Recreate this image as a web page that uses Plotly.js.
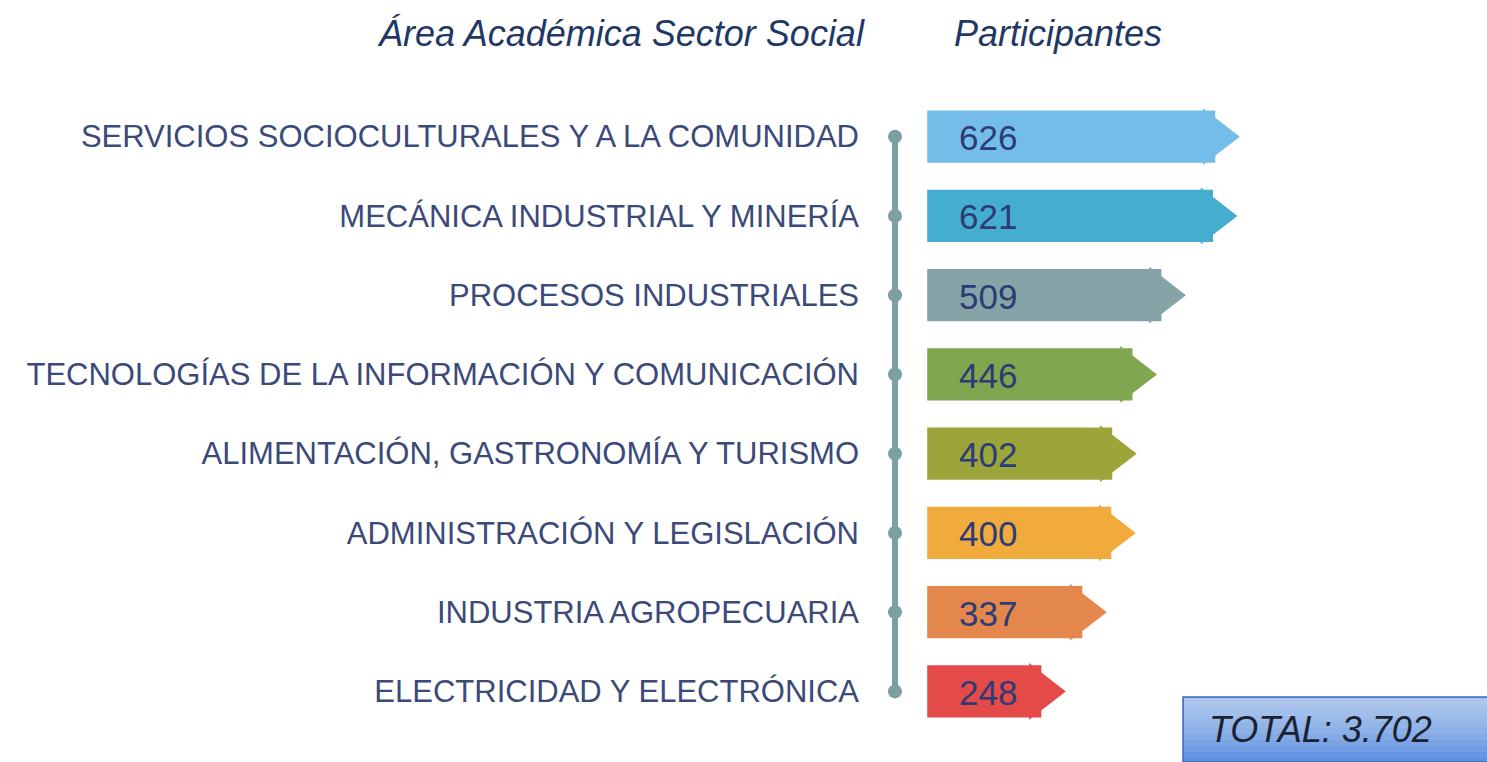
<!DOCTYPE html>
<html>
<head>
<meta charset="utf-8">
<script src="https://cdn.plot.ly/plotly-3.0.1.min.js"></script>
<style>
  html, body { margin: 0; padding: 0; background: #ffffff; }
  #chart { width: 1487px; height: 762px; }
</style>
</head>
<body>
<div id="chart"></div>
<script>
  'use strict';

  // Datos
  const AREAS = [
    'SERVICIOS SOCIOCULTURALES Y A LA COMUNIDAD',
    'MECÁNICA INDUSTRIAL Y MINERÍA',
    'PROCESOS INDUSTRIALES',
    'TECNOLOGÍAS DE LA INFORMACIÓN Y COMUNICACIÓN',
    'ALIMENTACIÓN, GASTRONOMÍA Y TURISMO',
    'ADMINISTRACIÓN Y LEGISLACIÓN',
    'INDUSTRIA AGROPECUARIA',
    'ELECTRICIDAD Y ELECTRÓNICA',
  ];
  const PARTICIPANTES = [626, 621, 509, 446, 402, 400, 337, 248];
  const TOTAL_LABEL = 'TOTAL: 3.702';
  const TITLE_AREA = 'Área Académica Sector Social';
  const TITLE_PART = 'Participantes';

  const BAR_COLORS = ['#74bde9', '#45adcf', '#86a4a8', '#80a64f', '#9ca53a', '#f1ab3c', '#e3874c', '#e34a48'];

  const W = 1487, H = 762;
  const M = { l: 866, r: 170, t: 97, b: 31 };
  const X_MIN = -133, X_MAX = 847;
  const LINE_X = -70;

  const FONT = '"Liberation Sans", Arial, sans-serif';
  const NAVY = '#1f3864';
  const LINE_COL = '#7c9fa2';

  // pixel -> paper coordinates, for the decorations outside the plot area
  const plotW = W - M.l - M.r, plotH = H - M.t - M.b;
  const px = (x) => (x - M.l) / plotW;
  const py = (y) => (H - M.b - y) / plotH;

  const bars = {
    type: 'bar',
    orientation: 'h',
    x: PARTICIPANTES,
    y: AREAS,
    width: 0.66,
    marker: { color: BAR_COLORS, line: { width: 0 } },
    hoverinfo: 'x+y',
  };

  // punta de flecha al final de cada barra
  const tips = {
    type: 'scatter',
    mode: 'markers',
    x: PARTICIPANTES,
    y: AREAS,
    marker: { symbol: 'triangle-right', size: 49, color: BAR_COLORS, line: { width: 0 } },
    hoverinfo: 'skip',
  };

  const spine = {
    type: 'scatter',
    mode: 'lines+markers',
    x: AREAS.map(() => LINE_X),
    y: AREAS,
    line: { color: LINE_COL, width: 6 },
    marker: { size: 14, color: LINE_COL },
    hoverinfo: 'skip',
  };

  const valueLabels = PARTICIPANTES.map((v, i) => ({
    x: 0, y: AREAS[i], xref: 'x', yref: 'y',
    text: String(v), showarrow: false,
    xanchor: 'left', yanchor: 'middle', xshift: 30, yshift: -1,
    font: { family: FONT, size: 35, color: '#2d3b76' },
  }));

  const centered = { xref: 'paper', yref: 'paper', xanchor: 'center', yanchor: 'middle', showarrow: false };

  const annotations = valueLabels.concat([
    { ...centered, x: px(621), y: py(34), text: TITLE_AREA,
      font: { family: FONT, size: 36, color: NAVY, style: 'italic' } },
    { ...centered, x: px(1058), y: py(34), text: TITLE_PART,
      font: { family: FONT, size: 36, color: NAVY, style: 'italic' } },
    { ...centered, x: px(1320), y: py(729), text: TOTAL_LABEL,
      font: { family: FONT, size: 36, color: '#1b2233', style: 'italic' } },
  ]);

  // caja del total con degradado (bandas superpuestas)
  const shapes = [{
    type: 'rect', xref: 'paper', yref: 'paper',
    x0: px(1183), x1: px(1490), y0: py(762), y1: py(697),
    fillcolor: '#5c90e0', line: { color: '#3c6cc0', width: 1.5 }, layer: 'below',
  }];
  for (let k = 1; k <= 10; k++) {
    shapes.push({
      type: 'rect', xref: 'paper', yref: 'paper',
      x0: px(1184), x1: px(1489), y0: py(698 + k * 6), y1: py(698),
      fillcolor: 'rgba(255,255,255,0.07)', line: { width: 0 }, layer: 'below',
    });
  }

  const layout = {
    width: W,
    height: H,
    margin: M,
    paper_bgcolor: '#ffffff',
    plot_bgcolor: '#ffffff',
    showlegend: false,
    font: { family: FONT },
    xaxis: {
      range: [X_MIN, X_MAX],
      visible: false,
      fixedrange: true,
    },
    yaxis: {
      range: [AREAS.length - 0.5, -0.5],
      showgrid: false,
      zeroline: false,
      showline: false,
      ticks: '',
      ticklabelstandoff: 6,
      automargin: false,
      tickfont: { family: FONT, size: 31, color: '#3b4a79' },
      fixedrange: true,
    },
    annotations,
    shapes,
  };

  Plotly.newPlot('chart', [spine, bars, tips], layout, { displayModeBar: false, responsive: false });
</script>
</body>
</html>
